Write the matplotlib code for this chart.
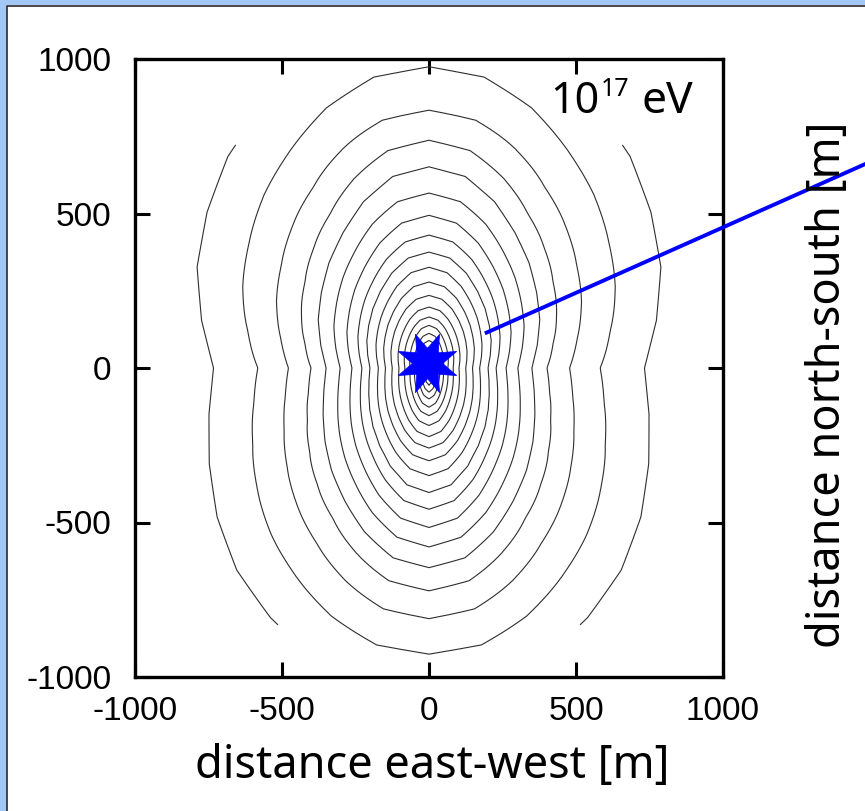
import numpy as np
import matplotlib
matplotlib.use("Agg")
import matplotlib.pyplot as plt
from matplotlib.path import Path
from matplotlib.transforms import Affine2D
from matplotlib.patches import Rectangle
from matplotlib.lines import Line2D

plt.rcParams["axes.unicode_minus"] = False

W, H = 865, 811
TEXT_FONT = ["Noto Sans", "DejaVu Sans"]
TICK_FONT = ["Liberation Sans", "DejaVu Sans"]
BLUE = "#0000ff"

# contour levels, outermost first: half width on the east-west axis and
# reach to the north and to the south [m]
half_width  = [733, 582, 478, 401, 350, 302, 262, 228, 201, 172, 148, 125,
               102, 82, 64, 49, 36, 25, 16]
north_reach = [1119, 975, 834, 737, 651, 566, 494, 430, 375, 326, 278, 235,
               197, 165, 138, 112, 89, 67, 48]
south_reach = [1056, 926, 811, 721, 646, 579, 516, 457, 403, 348, 300, 259,
               222, 186, 154, 127, 100, 78, 57]
bulge_scale = [0.95, 1.0, 0.95, 0.9, 0.85, 0.8, 0.75, 0.7, 0.65, 0.6, 0.55,
               0.5, 0.45, 0.4, 0.35, 0.3, 0.3, 0.3, 0.3]

# how far the contours bulge out beyond an ellipse, by angle from east-west
north_bulge_deg = [0, 13, 22.5, 32, 45, 57, 78, 90]
north_bulge     = [0, 0.078, 0.121, 0.132, 0.122, 0.083, 0.019, 0]
south_bulge_deg = [0, 22, 33.5, 40, 48, 56.5, 75, 90]
south_bulge     = [0, 0.063, 0.088, 0.096, 0.087, 0.064, 0.02, 0]

grid_radius = 980     # footprint simulated only inside this radius
n_rays = 32           # star-shaped simulation grid

core_x = [-8]
core_y = [15]
shower_axis_x = [190, 1500]
shower_axis_y = [112, 667]


def fx(px):
    return px / W


def fy(py):
    return 1 - py / H


def level_radius(j, th):
    c, s = np.cos(th), np.sin(th)
    b = north_reach[j] if s >= 0 else south_reach[j]
    r = 1.0 / np.sqrt(c * c / half_width[j] ** 2 + s * s / b ** 2)
    ang = np.degrees(np.arcsin(min(abs(s), 1.0)))
    if s >= 0:
        g = np.interp(ang, north_bulge_deg, north_bulge)
    else:
        g = np.interp(ang, south_bulge_deg, south_bulge)
    return r * (1 + bulge_scale[j] * g)


# field on the polar grid: level index as a function of distance along each ray
n_lev = len(half_width)
theta = np.linspace(0, 2 * np.pi, n_rays + 1)
rho = np.linspace(0, grid_radius, 197)
TH, RH = np.meshgrid(theta, rho)
X = RH * np.cos(TH)
Y = RH * np.sin(TH)
Z = np.zeros_like(X)
for k, th in enumerate(theta):
    radii = [level_radius(j, th) for j in range(n_lev)]
    step = radii[0] - radii[1]
    xp = [0.0] + radii[::-1] + [radii[0] + step, radii[0] + 5000.0]
    fp = [float(n_lev)] + list(range(n_lev - 1, -1, -1)) + [-1.0, -5000.0 / step]
    Z[:, k] = np.interp(rho, xp, fp)

fig = plt.figure(figsize=(W / 100, H / 100), dpi=100)
fig.patch.set_facecolor("white")

# slide frame: light blue strip left and top with a dark edge
fig.add_artist(Rectangle((0, 0), fx(7), 1, transform=fig.transFigure,
                         color="#a3c8f5", lw=0, zorder=0))
fig.add_artist(Rectangle((0, fy(5)), 1, 5 / H, transform=fig.transFigure,
                         color="#a3c8f5", lw=0, zorder=0))
fig.add_artist(Line2D([fx(7.5), fx(7.5), 1], [0, fy(5.5), fy(5.5)],
                      transform=fig.transFigure, color="#2a2a2a", lw=1.2,
                      zorder=1))

ax = fig.add_axes([fx(135), fy(677), (723 - 135) / W, (677 - 59) / H])
ax.contour(X, Y, Z, levels=np.arange(n_lev), colors="#2e2e2e",
           linewidths=0.8, linestyles="solid")

star = Path.unit_regular_star(8, 0.48).transformed(Affine2D().rotate_deg(22.5))
ax.plot(core_x, core_y, ls="none", marker=star, ms=42, color=BLUE,
        mec=BLUE, mew=0.5, zorder=5)
ax.plot(shower_axis_x, shower_axis_y, color=BLUE, lw=2.8, clip_on=False,
        zorder=6, solid_capstyle="butt")

ax.set_xlim(-1000, 1000)
ax.set_ylim(-1000, 1000)
ax.set_xticks([-1000, -500, 0, 500, 1000])
ax.set_yticks([-1000, -500, 0, 500, 1000])
ax.tick_params(direction="in", length=10.8, width=2.2, top=True, right=True,
               labelsize=24, color="black")
ax.tick_params(axis="x", pad=13.5)
ax.tick_params(axis="y", pad=17)
for lab in ax.get_xticklabels() + ax.get_yticklabels():
    lab.set_family(TICK_FONT)
for sp in ax.spines.values():
    sp.set_linewidth(2.4)
    sp.set_color("black")

fig.text(fx(432), fy(766), "distance east-west [m]", ha="center",
         va="center", fontsize=32.5, family=TEXT_FONT)
fig.text(fx(828), fy(385), "distance north-south [m]", ha="center",
         va="center", rotation=90, fontsize=32.5, family=TEXT_FONT)

fig.text(fx(550), fy(113), "10", fontsize=31, family=TEXT_FONT,
         va="baseline")
fig.text(fx(601), fy(96), "17", fontsize=18, family=TEXT_FONT,
         va="baseline")
fig.text(fx(642), fy(113), "eV", fontsize=32, family=TEXT_FONT,
         va="baseline")

fig.savefig("out.png", dpi=100, facecolor="white")
